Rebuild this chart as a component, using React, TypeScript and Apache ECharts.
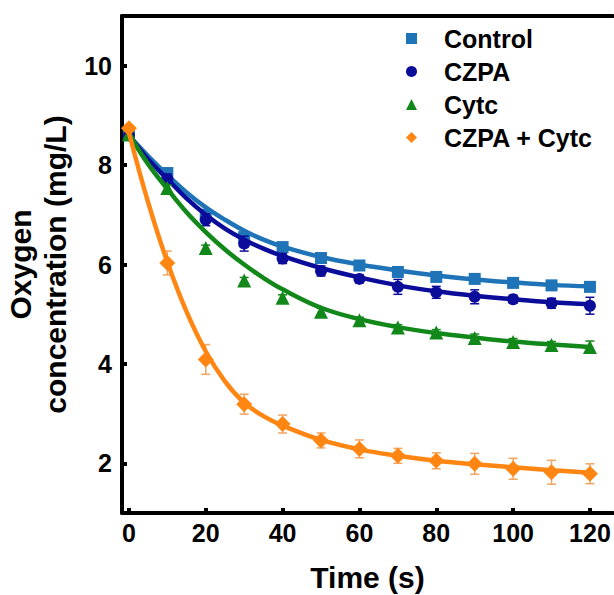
import React, { useEffect, useRef } from "react";
import * as echarts from "echarts";

// Measurement times (s)
const timePoints = [0, 10, 20, 30, 40, 50, 60, 70, 80, 90, 100, 110, 120];

// Mean oxygen concentration (mg/L) and error at each time
const controlValues = [8.6, 7.84, 7.0, 6.55, 6.35, 6.13, 5.98, 5.85, 5.75, 5.71, 5.63, 5.58, 5.55];
const controlErrors = [0.04, 0.05, 0.06, 0.05, 0.05, 0.05, 0.05, 0.05, 0.05, 0.05, 0.05, 0.05, 0.05];

const czpaValues = [8.6, 7.72, 6.9, 6.42, 6.12, 5.87, 5.71, 5.55, 5.44, 5.35, 5.3, 5.22, 5.17];
const czpaErrors = [0.05, 0.1, 0.12, 0.15, 0.1, 0.1, 0.08, 0.15, 0.12, 0.14, 0.08, 0.1, 0.17];

const cytcValues = [8.62, 7.54, 6.33, 5.68, 5.33, 5.05, 4.88, 4.73, 4.63, 4.52, 4.44, 4.38, 4.34];
const cytcErrors = [0.05, 0.06, 0.06, 0.06, 0.06, 0.07, 0.06, 0.06, 0.06, 0.08, 0.07, 0.07, 0.12];

const comboValues = [8.74, 6.03, 4.09, 3.19, 2.79, 2.46, 2.29, 2.15, 2.05, 1.99, 1.89, 1.82, 1.79];
const comboErrors = [0.05, 0.24, 0.3, 0.2, 0.18, 0.15, 0.18, 0.15, 0.16, 0.21, 0.21, 0.24, 0.2];

// Fitted decay curves
const fitTimes = [0, 5, 10, 15, 20, 25, 30, 35, 40, 50, 60, 70, 80, 90, 100, 110, 120];
const controlFit = [8.6, 8.18, 7.8, 7.45, 7.15, 6.9, 6.68, 6.5, 6.36, 6.15, 6.0, 5.88, 5.78, 5.7, 5.64, 5.59, 5.56];
const czpaFit = [8.6, 8.12, 7.72, 7.33, 7.0, 6.72, 6.5, 6.32, 6.17, 5.93, 5.74, 5.58, 5.46, 5.37, 5.3, 5.24, 5.2];
const cytcFit = [8.62, 8.02, 7.52, 7.05, 6.65, 6.3, 6.0, 5.73, 5.5, 5.13, 4.9, 4.74, 4.62, 4.53, 4.45, 4.39, 4.34];
const comboFit = [8.65, 7.25, 6.05, 5.05, 4.25, 3.65, 3.22, 2.95, 2.76, 2.47, 2.28, 2.15, 2.05, 1.98, 1.92, 1.86, 1.81];

// Axis ticks
const xTicks = [0, 20, 40, 60, 80, 100, 120];
const yTicks = [2, 4, 6, 8, 10];

const FONT = "'Liberation Sans', Arial, sans-serif";

type Group = {
  name: string;
  values: number[];
  errors: number[];
  fit: number[];
  color: string;
  errColor: string;
  symbol: string;
  size: number;
  z: number;
};

const groups: Group[] = [
  { name: "Control", values: controlValues, errors: controlErrors, fit: controlFit, color: "#1f74b8", errColor: "#1f74b8", symbol: "rect", size: 12, z: 2 },
  { name: "CZPA", values: czpaValues, errors: czpaErrors, fit: czpaFit, color: "#0c0c9a", errColor: "#0c0c9a", symbol: "circle", size: 12, z: 3 },
  { name: "Cytc", values: cytcValues, errors: cytcErrors, fit: cytcFit, color: "#12881a", errColor: "#12881a", symbol: "triangle", size: 14, z: 4 },
  { name: "CZPA + Cytc", values: comboValues, errors: comboErrors, fit: comboFit, color: "#ff8612", errColor: "#f2a560", symbol: "diamond", size: 16, z: 5 },
];

function buildSeries(g: Group) {
  const fitLine = {
    type: "line",
    name: g.name + " fit",
    data: fitTimes.map((t, i) => [t, g.fit[i]]),
    showSymbol: false,
    smooth: 0.4,
    lineStyle: { color: g.color, width: 4.5 },
    itemStyle: { color: g.color },
    z: g.z,
    silent: true,
  };
  const points = {
    type: "scatter",
    name: g.name,
    data: timePoints.map((t, i) => [t, g.values[i]]),
    symbol: g.symbol,
    symbolSize: g.size,
    itemStyle: { color: g.color, opacity: 1 },
    z: g.z,
    silent: true,
  };
  const errorBars = {
    type: "custom",
    name: g.name + " error",
    data: timePoints.map((t, i) => [t, g.values[i], g.errors[i]]),
    encode: { x: 0, y: 1 },
    z: g.z,
    silent: true,
    renderItem: (_params: any, api: any) => {
      const t = api.value(0);
      const v = api.value(1);
      const e = api.value(2);
      const hi = api.coord([t, v + e]);
      const lo = api.coord([t, v - e]);
      const cap = 4.5;
      const style = { stroke: g.errColor, lineWidth: 1.5 };
      return {
        type: "group",
        children: [
          { type: "line", shape: { x1: hi[0], y1: hi[1], x2: lo[0], y2: lo[1] }, style },
          { type: "line", shape: { x1: hi[0] - cap, y1: hi[1], x2: hi[0] + cap, y2: hi[1] }, style },
          { type: "line", shape: { x1: lo[0] - cap, y1: lo[1], x2: lo[0] + cap, y2: lo[1] }, style },
        ],
      };
    },
  };
  return [errorBars, fitLine, points];
}

export default function App() {
  const ref = useRef<HTMLDivElement>(null);

  useEffect(() => {
    if (!ref.current) return;
    const chart = echarts.init(ref.current, null, { renderer: "svg" });

    const axisLine = { show: true, onZero: false, lineStyle: { color: "#000", width: 4 } };
    const tickStyle = { show: true, inside: true, length: 5, lineStyle: { color: "#000", width: 4 } };
    const labelStyle = { color: "#000", fontSize: 25, fontWeight: "bold", fontFamily: FONT };

    chart.setOption({
      animation: false,
      backgroundColor: "#fff",
      grid: { left: 122, right: 1, top: 16, bottom: 82, containLabel: false, outerBoundsMode: "none" },
      legend: {
        orient: "vertical",
        left: 401,
        top: 21,
        itemWidth: 11,
        itemHeight: 11,
        itemGap: 8,
        selectedMode: false,
        formatter: "{t|{name}}",
        textStyle: {
          color: "#000",
          fontSize: 25,
          fontWeight: "bold",
          fontFamily: FONT,
          rich: {
            t: { color: "#000", fontSize: 25, fontWeight: "bold", fontFamily: FONT, padding: [0, 0, 0, 22] },
          },
        },
        data: groups.map((g) => ({ name: g.name, icon: g.symbol })),
      },
      xAxis: [
        {
          type: "value",
          min: -1.8,
          max: 126,
          axisLine,
          axisTick: { ...tickStyle, customValues: xTicks },
          axisLabel: { ...labelStyle, margin: 7, customValues: xTicks },
          splitLine: { show: false },
          name: "Time (s)",
          nameLocation: "middle",
          nameGap: 49,
          nameTextStyle: { color: "#000", fontSize: 30, fontWeight: "bold", fontFamily: FONT, lineHeight: 30 },
        },
        {
          type: "value",
          position: "top",
          min: -1.8,
          max: 126,
          axisLine,
          axisTick: { show: false },
          axisLabel: { show: false },
          splitLine: { show: false },
        },
      ],
      yAxis: {
        type: "value",
        min: 1,
        max: 11,
        axisLine,
        axisTick: { ...tickStyle, customValues: yTicks },
        axisLabel: { ...labelStyle, margin: 10, customValues: yTicks },
        splitLine: { show: false },
        name: "Oxygen\nconcentration (mg/L)",
        nameLocation: "middle",
        nameGap: 33,
        nameTextStyle: { color: "#000", fontSize: 30, fontWeight: "bold", fontFamily: FONT, lineHeight: 35 },
      },
      series: groups.flatMap(buildSeries),
    });

    return () => chart.dispose();
  }, []);

  return (
    <div
      ref={ref}
      style={{ position: "fixed", left: 0, top: 0, width: 614, height: 595, background: "#fff" }}
    />
  );
}
